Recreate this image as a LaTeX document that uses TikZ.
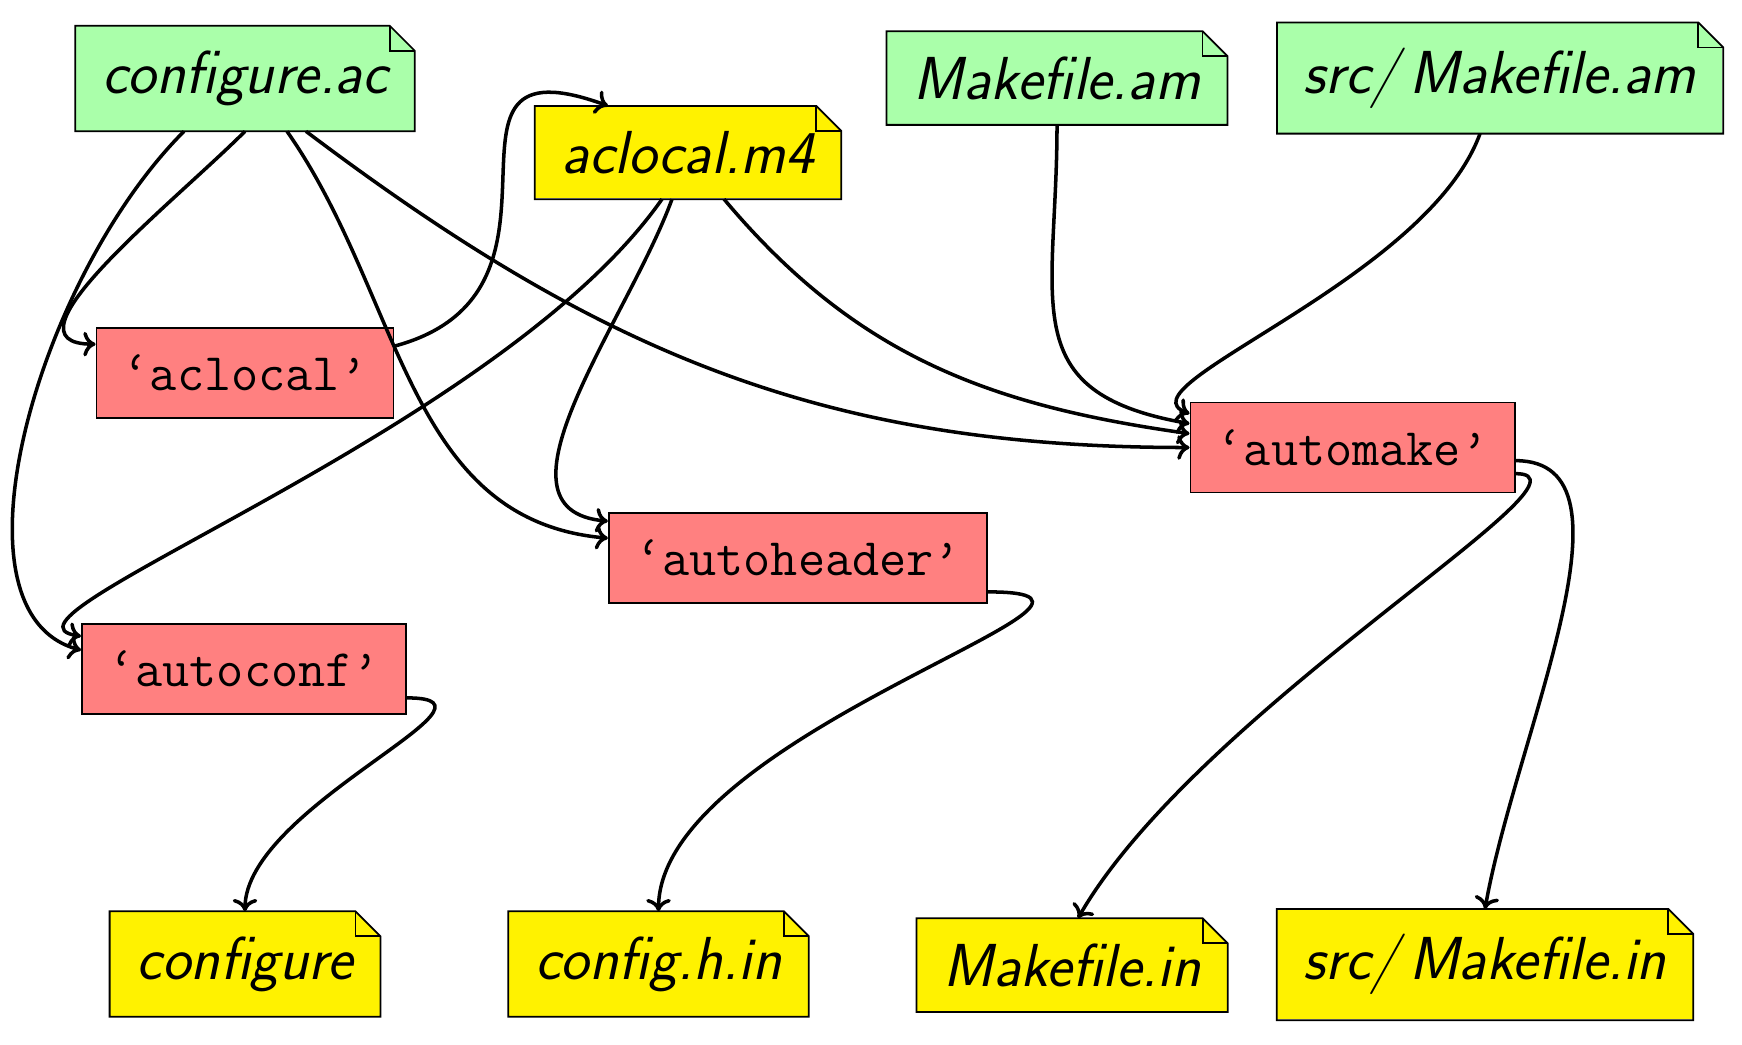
\documentclass[tikz,border=0pt]{standalone}
\usepackage{tikz}
\usetikzlibrary{arrows.meta}
\definecolor{srcgreen}{RGB}{170,255,170}
\definecolor{genyellow}{RGB}{255,242,0}
\definecolor{toolred}{RGB}{255,128,128}

\begin{document}
\begin{tikzpicture}[>={To[width=7pt,length=3.5pt]},
		note/.style={fill=#1, inner xsep=7.5pt, inner ysep=7pt, font=\LARGE\sffamily\itshape},
		tool/.style={draw, line width=0.5pt, fill=toolred, inner sep=7.5pt, minimum height=0.9cm, font=\fontsize{15}{18}\selectfont\ttfamily},
		flow/.style={->, line width=1pt}]
			\useasboundingbox (0,0) rectangle (17.42,-10.44);
			% eingabedateien
			\node[note=srcgreen] (cfgac) at (2.45,-0.785) {configure.ac};
			\node[note=srcgreen] (mkam) at (10.57,-0.78) {Makefile.am};
			\node[note=srcgreen] (srcam) at (15.0,-0.78) {src/\,Makefile.am};
			\node[note=genyellow] (m4) at (6.88,-1.525) {aclocal.m4};
			% werkzeuge
			\node[tool] (aclocal) at (2.45,-3.73) {\textquoteleft aclocal\textquoteright};
			\node[tool] (autoconf) at (2.44,-6.69) {\textquoteleft autoconf\textquoteright};
			\node[tool] (autoheader) at (7.98,-5.58) {\textquoteleft autoheader\textquoteright};
			\node[tool] (automake) at (13.525,-4.475) {\textquoteleft automake\textquoteright};
			% erzeugte dateien
			\node[note=genyellow] (cfg) at (2.45,-9.64) {configure};
			\node[note=genyellow] (cfgh) at (6.585,-9.64) {config.h.in};
			\node[note=genyellow] (mkin) at (10.72,-9.65) {Makefile.in};
			\node[note=genyellow] (srcin) at (14.85,-9.645) {src/\,Makefile.in};
			% eselsohren
			\foreach \n in {cfgac, mkam, srcam, m4, cfg, cfgh, mkin, srcin} {
				\fill[white] ([xshift=-0.25cm]\n.north east) -- (\n.north east) -- ([yshift=-0.25cm]\n.north east) -- cycle;
				\draw[line width=0.5pt] (\n.south west) -- (\n.north west) -- ([xshift=-0.25cm]\n.north east) -- ([yshift=-0.25cm]\n.north east) -- (\n.south east) -- cycle;
				\draw[line width=0.5pt] ([xshift=-0.25cm]\n.north east) |- ([yshift=-0.25cm]\n.north east);
			}
			% configure.ac
			\draw[flow] (cfgac.south) to[out=-135, in=180] ([yshift=-0.17cm]aclocal.north west);
			\draw[flow] ([xshift=-0.61cm]cfgac.south) to[out=-135, in=165, in looseness=0.7] ([yshift=-0.27cm]autoconf.north west);
			\draw[flow] ([xshift=0.42cm]cfgac.south) to[out=-55, in=175] ([yshift=-0.26cm]autoheader.north west);
			\draw[flow] ([xshift=0.61cm]cfgac.south) to[out=-37, in=180] (automake.west);
			% aclocal
			\draw[flow] ([yshift=-0.19cm]aclocal.north east) to[out=15, in=160, looseness=1.7] ([xshift=-0.8cm]m4.north);
			% aclocal.m4
			\draw[flow] ([xshift=-0.26cm]m4.south) to[out=-125, in=172, in looseness=0.4] ([yshift=-0.13cm]autoconf.north west);
			\draw[flow] ([xshift=-0.16cm]m4.south) to[out=-110, in=175] ([yshift=-0.09cm]autoheader.north west);
			\draw[flow] ([xshift=0.36cm]m4.south) to[out=-50, in=172] ([yshift=-0.32cm]automake.north west);
			% Makefile.am
			\draw[flow] (mkam.south) to[out=-90, in=170, looseness=1.4] ([yshift=-0.22cm]automake.north west);
			\draw[flow] ([xshift=-0.2cm]srcam.south) to[out=-110, in=160, in looseness=0.5] ([yshift=-0.12cm]automake.north west);
			% ausgaben
			\draw[flow] ([yshift=0.17cm]autoconf.south east) to[out=0, in=90, out looseness=1.1] (cfg.north);
			\draw[flow] ([yshift=0.12cm]autoheader.south east) to[out=0, in=90, out looseness=1.1] (cfgh.north);
			\draw[flow] ([yshift=-0.59cm]automake.north east) to[out=0, in=80, out looseness=0.75] (srcin.north);
			\draw[flow] ([yshift=-0.72cm]automake.north east) to[out=0, in=60, out looseness=0.4] ([xshift=0.06cm]mkin.north);
		\end{tikzpicture}
\end{document}
